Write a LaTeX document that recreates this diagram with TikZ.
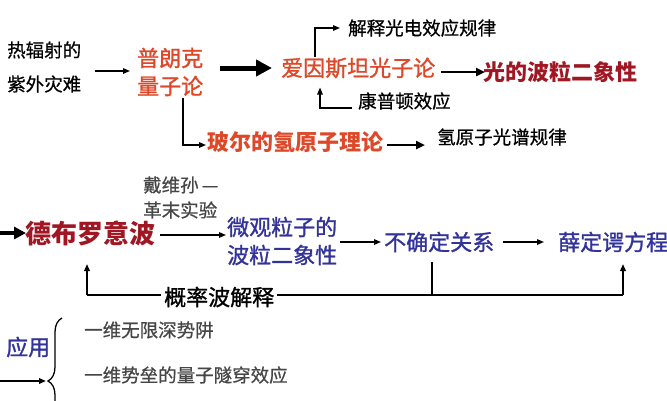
\documentclass[tikz,border=0pt]{standalone}
\usepackage{fontspec}
\setmainfont{Noto Sans CJK SC}
\newfontfamily\medf{Noto Sans CJK SC}[FakeBold=0.7]
\newfontfamily\semf{Noto Sans CJK SC}[FakeBold=1.2]
\usetikzlibrary{arrows.meta,decorations.pathreplacing,calc}
\definecolor{ored}{RGB}{222,72,40}
\definecolor{dred}{RGB}{160,22,35}
\definecolor{dblue}{RGB}{50,50,155}
\definecolor{dgray}{RGB}{70,70,70}
\begin{document}
\begin{tikzpicture}[x=1pt,y=-1pt,
  txt/.style={inner sep=0pt, anchor=west},
  sm/.style={txt, font=\fontsize{18.5}{22}\selectfont\medf},
  lg/.style={txt, font=\fontsize{22}{26}\selectfont\semf},
  lgb/.style={txt, font=\fontsize{22}{26}\selectfont\bfseries},
  xlb/.style={txt, font=\fontsize{26}{30}\selectfont\bfseries},
  arr/.style={line width=1.4pt, -{Triangle[length=7pt,width=5.5pt]}},
  marr/.style={line width=2.4pt, -{Triangle[length=9pt,width=8pt]}},
  barr/.style={line width=5pt, -{Triangle[length=16pt,width=16pt]}},
  lline/.style={line width=2.2pt}
]
\useasboundingbox (0,0) rectangle (667,400);
\clip (0,0) rectangle (667,400);

% row 1
\node[sm] (re1) at (7,50) {热辐射的};
\node[sm] (re2) at (7,84) {紫外灾难};
\node[lg, text=ored] (pl1) at (137,58) {普朗克};
\node[lg, text=ored] (pl2) at (137,86) {量子论};
\node[lg, text=ored] (ein) at (281,68) {爱因斯坦光子论};
\node[lgb, text=dred] (guang) at (483,72) {光的波粒二象性};
\node[sm] (jie) at (348,28) {解释光电效应规律};
\node[sm] (kang) at (358,101) {康普顿效应};
\node[lgb, text=ored] (bohr) at (207,142) {玻尔的氢原子理论};
\node[sm] (qing) at (437,137) {氢原子光谱规律};

\draw[arr] ([xshift=14pt,yshift=-3pt]re1.east |- ein.west) -- ([xshift=-7pt,yshift=-3pt]pl1.west |- ein.west);
\draw[barr] ([xshift=17pt]pl1.east |- ein.west) -- ([xshift=-9pt]ein.west);
\draw[marr] ([xshift=6pt]ein.east |- guang.west) -- ([xshift=2pt]guang.west);
\draw[arr] ([xshift=34pt]ein.north west) |- ([xshift=-8pt]jie.west);
\draw[arr] ([xshift=-6pt,yshift=-7pt]kang.west) -| ([xshift=39pt,yshift=-9pt]ein.south west);
\draw[arr] ([xshift=46pt,yshift=-2pt]pl2.south west) |- ([xshift=-1pt,yshift=-3pt]bohr.west);
\draw[marr] ([xshift=4pt,yshift=-3pt]bohr.east) -- ([xshift=-12pt,yshift=-3pt]qing.west |- bohr.east);

% row 2
\node[sm, text=dgray] (dai1) at (143,185) {戴维孙\,—};
\node[sm, text=dgray] (dai2) at (143,210) {革末实验};
\node[xlb, text=dred] (deb) at (25,233) {德布罗意波};
\node[lg, text=dblue] (wei1) at (227,227) {微观粒子的};
\node[lg, text=dblue] (wei2) at (227,255) {波粒二象性};
\node[lg, text=dblue] (bq) at (384,242) {不确定关系};
\node[lg, text=dblue] (xue) at (558,242) {薛定谔方程};

\coordinate (lin) at (0,233);
\draw[line width=3.5pt, -{Triangle[length=12pt,width=12pt]}] (lin) -- ([xshift=1pt]deb.west);
\draw[arr] ([xshift=5pt,yshift=-2pt]deb.east) -- ([xshift=-1pt,yshift=-2pt]wei1.west |- deb.east);
\draw[arr] ([xshift=3pt]wei1.east |- bq.west) -- ([xshift=-3pt]bq.west);
\draw[arr] ([xshift=9pt]bq.east) -- ([xshift=-14pt]xue.west);

\coordinate (jl) at (87,295);
\coordinate (jr) at (623,295);
\coordinate (jm) at (432,295);
\coordinate (tipl) at (87,264);
\coordinate (tipr) at (623,264);
\draw[lline] (jl) -- (jr);
\draw[lline] ([yshift=-10pt]bq.south -| jm) -- (jm);
\draw[arr, line width=2.2pt] (jl) -- (tipl);
\draw[arr, line width=2.2pt] (jr) -- (tipr);
\node[lg, fill=white, inner xsep=3pt] (gl) at (161,297) {概率波解释};

% row 3
\node[lg, text=dblue] (yy) at (6,347) {应用};
\node[sm, text=dgray] (a1) at (84,330) {一维无限深势阱};
\node[sm, text=dgray] (a2) at (84,375) {一维势垒的量子隧穿效应};
\coordinate (bb) at (62,444);
\coordinate (bt) at (62,318);
\draw[decorate, decoration={brace, amplitude=14pt}, line width=1.3pt] (bb) -- (bt);
\coordinate (la) at (0,381);
\coordinate (lb) at (46,381);
\draw[arr, line width=2pt] (la) -- (lb);
\end{tikzpicture}
\end{document}
